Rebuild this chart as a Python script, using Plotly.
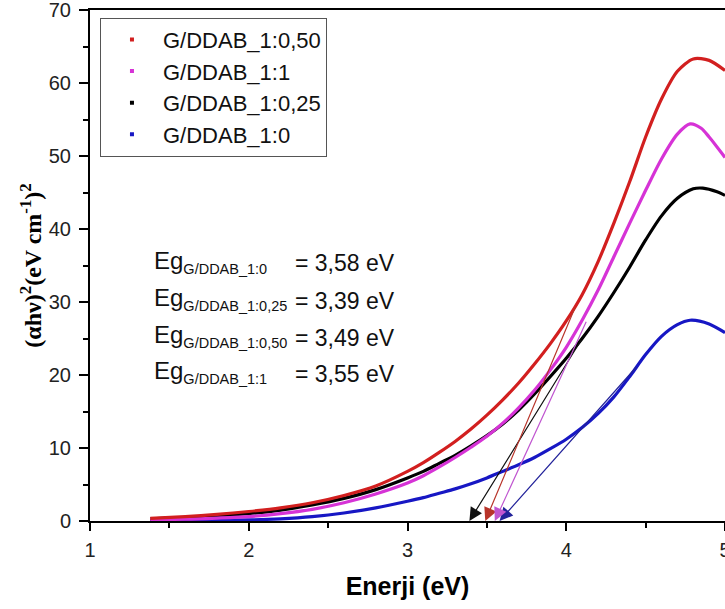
import plotly.graph_objects as go

# ---- data ----
x_red = [1.38, 1.6, 1.8, 2.0, 2.2, 2.4, 2.6, 2.8, 3.0, 3.1, 3.2, 3.3, 3.4, 3.5, 3.6, 3.7, 3.8, 3.9, 4.0, 4.1, 4.2, 4.3, 4.4, 4.5, 4.6, 4.7, 4.8, 4.9, 5.0]
y_red = [0.35, 0.6, 0.9, 1.3, 1.8, 2.5, 3.5, 4.8, 6.8, 8.0, 9.4, 10.9, 12.6, 14.5, 16.6, 18.9, 21.5, 24.3, 27.4, 31.0, 35.5, 40.8, 46.5, 52.6, 57.8, 61.6, 63.3, 63.1, 61.7]

x_mag = [1.38, 1.6, 1.8, 2.0, 2.2, 2.4, 2.6, 2.8, 3.0, 3.1, 3.2, 3.3, 3.4, 3.5, 3.6, 3.7, 3.8, 3.9, 4.0, 4.1, 4.2, 4.3, 4.4, 4.5, 4.6, 4.7, 4.78, 4.85, 4.9, 5.0]
y_mag = [0.2, 0.25, 0.4, 0.6, 1.0, 1.6, 2.5, 3.7, 5.2, 6.2, 7.4, 8.7, 10.1, 11.6, 13.4, 15.5, 17.9, 20.7, 23.8, 27.5, 31.6, 36.2, 40.8, 45.3, 49.6, 53.0, 54.4, 53.8, 52.6, 49.8]

x_blk = [1.38, 1.6, 1.8, 2.0, 2.2, 2.4, 2.6, 2.8, 3.0, 3.1, 3.2, 3.3, 3.4, 3.5, 3.6, 3.7, 3.8, 3.9, 4.0, 4.1, 4.2, 4.3, 4.4, 4.5, 4.6, 4.7, 4.8, 4.86, 4.95, 5.0]
y_blk = [0.3, 0.45, 0.7, 1.0, 1.5, 2.2, 3.1, 4.3, 5.9, 6.8, 7.9, 9.0, 10.3, 11.7, 13.3, 15.2, 17.4, 19.8, 22.3, 25.0, 28.0, 31.3, 34.8, 38.5, 41.8, 44.2, 45.5, 45.6, 45.1, 44.6]

x_blu = [1.38, 1.6, 1.8, 2.0, 2.2, 2.4, 2.6, 2.8, 3.0, 3.1, 3.2, 3.3, 3.4, 3.5, 3.6, 3.7, 3.8, 3.9, 4.0, 4.1, 4.2, 4.3, 4.4, 4.5, 4.6, 4.7, 4.78, 4.9, 5.0]
y_blu = [0.05, 0.07, 0.1, 0.15, 0.3, 0.6, 1.1, 1.8, 2.7, 3.2, 3.8, 4.4, 5.1, 5.9, 6.8, 7.7, 8.7, 9.9, 11.2, 12.8, 14.7, 17.0, 19.8, 22.8, 25.3, 26.9, 27.5, 27.0, 25.8]

series_names = ["G/DDAB_1:0,50", "G/DDAB_1:1", "G/DDAB_1:0,25", "G/DDAB_1:0"]
series_colors = ["#d21f1f", "#d633d6", "#000000", "#1717c4"]

# band-gap tangents (x-intercepts) and where the tangent lines start
eg_labels = ["G/DDAB_1:0", "G/DDAB_1:0,25", "G/DDAB_1:0,50", "G/DDAB_1:1"]
eg_values = ["3,58", "3,39", "3,49", "3,55"]
tan_end_x = [3.58, 3.39, 3.49, 3.55]
tan_start_x = [4.45, 4.10, 4.06, 4.13]
tan_start_y = [21.3, 25.0, 29.5, 27.5]
tan_colors = ["#22229a", "#111111", "#b8342a", "#c056d0"]

x_ticks = [1, 2, 3, 4, 5]
y_ticks = [0, 10, 20, 30, 40, 50, 60, 70]

SANS = "Liberation Sans, Arial, sans-serif"
SERIF = "Liberation Serif, Times New Roman, serif"

fig = go.Figure()

curves = [(x_blu, y_blu, 3), (x_blk, y_blk, 2), (x_mag, y_mag, 1), (x_red, y_red, 0)]
for xs, ys, i in curves:
    fig.add_trace(go.Scatter(x=xs, y=ys, mode="lines",
                             line=dict(color=series_colors[i], width=3.2, shape="spline", smoothing=0.8),
                             showlegend=False, hoverinfo="skip"))

for name, col in zip(series_names, series_colors):
    fig.add_trace(go.Scatter(x=[None], y=[None], mode="markers", name=name,
                             marker=dict(color=col, size=4, symbol="square")))

annotations = []
for sx, sy, ex, col in zip(tan_start_x, tan_start_y, tan_end_x, tan_colors):
    annotations.append(dict(x=ex, y=0, ax=sx, ay=sy, xref="x", yref="y", axref="x", ayref="y",
                            showarrow=True, arrowhead=2, arrowsize=2.2, arrowwidth=1.2, arrowcolor=col, text=""))

row_y = [35.5, 30.4, 25.3, 20.4]
for lab, val, yy in zip(eg_labels, eg_values, row_y):
    annotations.append(dict(x=1.39, y=yy, xref="x", yref="y", xanchor="left", yanchor="middle", showarrow=False,
                            text="Eg<sub><span style='font-size:14.5px'>" + lab + "</span></sub>",
                            font=dict(family=SANS, size=24, color="#111")))
    annotations.append(dict(x=2.28, y=yy - 0.2, xref="x", yref="y", xanchor="left", yanchor="middle", showarrow=False,
                            text="= " + val + " eV", font=dict(family=SANS, size=23, color="#111")))

fig.update_layout(
    width=725, height=609,
    margin=dict(l=90, r=0, t=10, b=88),
    paper_bgcolor="white", plot_bgcolor="white",
    annotations=annotations,
    legend=dict(x=0.0157, y=0.985, xanchor="left", yanchor="top", bgcolor="white",
                bordercolor="#555", borderwidth=1, font=dict(family=SANS, size=22, color="#111"),
                itemwidth=52, tracegroupgap=0),
    xaxis=dict(range=[1, 5.0], tickvals=x_ticks, ticks="outside", ticklen=8, tickwidth=2, tickcolor="black",
               showline=True, linewidth=2, linecolor="black", mirror=True, showgrid=False, zeroline=False,
               automargin=False, ticklabeloverflow="allow", ticklabelstandoff=2,
               minor=dict(dtick=0.5, tick0=1, ticks="outside", ticklen=5, tickwidth=2, tickcolor="black"),
               tickfont=dict(family=SANS, size=20, color="#222"),
               title=dict(text="<b>Enerji (eV)</b>", font=dict(family=SANS, size=25, color="black"), standoff=17)),
    yaxis=dict(range=[0, 70], tickvals=y_ticks, ticks="outside", ticklen=9, tickwidth=2, tickcolor="black",
               showline=True, linewidth=2, linecolor="black", showgrid=False, zeroline=False,
               automargin=False, ticklabeloverflow="allow", ticklabelstandoff=4,
               minor=dict(dtick=5, tick0=0, ticks="outside", ticklen=5, tickwidth=2, tickcolor="black"),
               tickfont=dict(family=SANS, size=20, color="#222"),
               title=dict(text="<b>(αhν)<sup>2</sup>(eV cm<sup>-1</sup>)<sup>2</sup></b>",
                          font=dict(family=SERIF, size=24, color="black"), standoff=0)),
)

fig.write_html("out.html", config={"displayModeBar": False},
               post_script="document.body.style.margin='0px';document.body.style.padding='0px';")
